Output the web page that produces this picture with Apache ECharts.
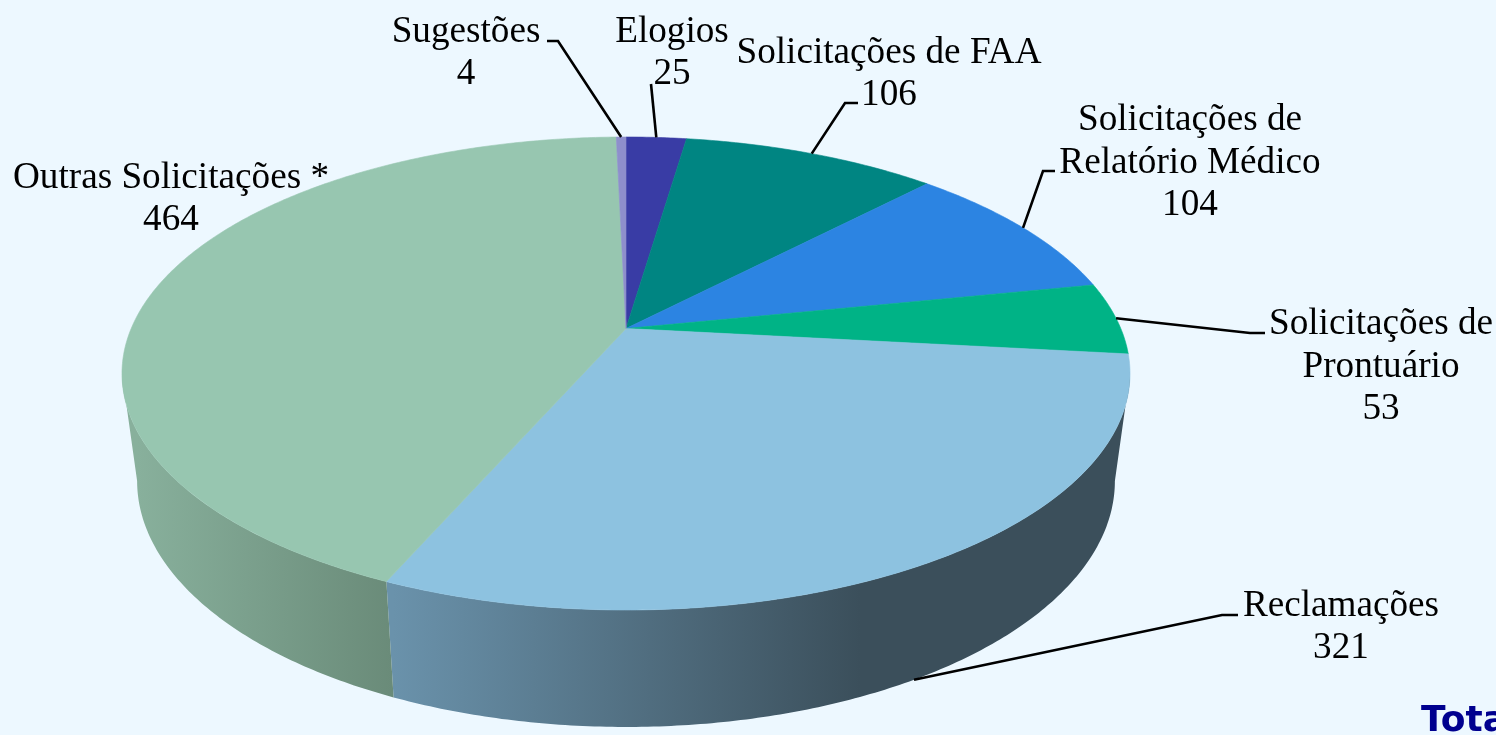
<!DOCTYPE html>
<html><head><meta charset="utf-8">
<style>html,body{margin:0;padding:0;background:#edf8ff;overflow:hidden}#c{width:1496px;height:735px}</style>
<script src="https://cdn.jsdelivr.net/npm/echarts@6/dist/echarts.min.js"></script>
</head><body><div id="c"></div>
<script>
// Data, clockwise from the top of the pie
const categories = ['Elogios','Solicitações de FAA','Solicitações de\nRelatório Médico','Solicitações de\nProntuário','Reclamações','Outras Solicitações *','Sugestões'];
const values = [25,106,104,53,321,464,4];
const topColors = ['#393ca5','#008582','#2c84e2','#00b386','#8dc2e0','#97c6b0','#8e8fcc'];
const sideStops = [null,null,null,null,['#6a92ab','#3b4f5b',393,860],['#88b09c','#6a8b79',137,392],null];
const labelCenters = [[672,53.5],[889,74],[1190,163],[1381,367],[1341,627],[171,199],[466,53.5]];
const leaderElbows = [[[651,84]],[[858,103],[845,103]],[[1055,171],[1043,171]],[[1265,333],[1250,333]],[[1238,615],[1222,615]],null,[[547,41],[558,41]]];

const CX = 626, CY = 373.5, RX = 504, RY = 236.5, APEX_LIFT = 45;
const BOTTOM_SX = 0.97, BOTTOM_SY = 1.04, BOTTOM_CY = 481;
const k = APEX_LIFT / RY, A = RX * Math.sqrt(1 - k * k);
const total = values.reduce((a, b) => a + b, 0);
const TAU = Math.PI * 2;
const starts = []; values.reduce((acc, v, i) => (starts[i] = acc, acc + v), 0);
const angleOf = c => c / total * TAU;

// perspective projection of a rim point of the disc (angle clockwise from far side)
function proj(t) {
  const X = Math.sin(t), Y = Math.cos(t), d = 1 + k * Y;
  return [A * X / d, (RY * Y + APEX_LIFT) / d];
}
const topPt = t => { const p = proj(t); return [CX + p[0], CY - p[1]]; };
const botPt = t => { const p = proj(t); return [CX + p[0] * BOTTOM_SX, BOTTOM_CY - p[1] * BOTTOM_SY]; };
function arc(fn, a, b) {
  const n = Math.max(2, Math.ceil(Math.abs(b - a) / 0.01)), out = [];
  for (let i = 0; i <= n; i++) out.push(fn(a + (b - a) * i / n));
  return out;
}
// the side wall is visible between the two silhouette points of the rim
const visFrom = Math.acos(-k), visTo = TAU - visFrom;

function renderSide(params) {
  const i = params.dataIndex, s = sideStops[i];
  const a = Math.max(angleOf(starts[i]), visFrom), b = Math.min(angleOf(starts[i] + values[i]), visTo);
  if (!s || b <= a) return null;
  const pts = arc(topPt, a, b).concat(arc(botPt, b, a));
  return { type: 'polygon', shape: { points: pts }, style: {
    fill: new echarts.graphic.LinearGradient(s[2], 0, s[3], 0, [{ offset: 0, color: s[0] }, { offset: 1, color: s[1] }], true) } };
}
function renderTop(params) {
  const i = params.dataIndex, a = angleOf(starts[i]), b = angleOf(starts[i] + values[i]);
  const pts = [[CX, CY - APEX_LIFT]].concat(arc(topPt, a, b));
  return { type: 'polygon', shape: { points: pts }, style: { fill: topColors[i], stroke: topColors[i], lineWidth: 0.6 } };
}
function renderLabel(params) {
  const i = params.dataIndex, c = labelCenters[i], children = [];
  if (leaderElbows[i]) {
    const mid = angleOf(starts[i] + values[i] / 2);
    const anchor = (mid > visFrom && mid < visTo) ? botPt(mid) : topPt(mid);
    children.push({ type: 'polyline', shape: { points: leaderElbows[i].concat([anchor]) },
      style: { fill: 'none', stroke: '#000', lineWidth: 2.6 } });
  }
  children.push({ type: 'text', style: { x: c[0], y: c[1], text: categories[i] + '\n' + values[i],
    font: '37.2px "Liberation Serif"', lineHeight: 42.3, fill: '#000', align: 'center', verticalAlign: 'middle' } });
  return { type: 'group', children };
}
const seriesData = values.map((v, i) => ({ name: categories[i], value: [v] }));
const mk = (fn, z) => ({ type: 'custom', coordinateSystem: 'none', renderItem: fn, data: seriesData, z, silent: true, animation: false, clip: false });
const chart = echarts.init(document.getElementById('c'), null, { renderer: 'canvas', width: 1496, height: 735 });
chart.setOption({
  backgroundColor: '#edf8ff',
  animation: false,
  title: { text: 'Tota', left: 1421, top: 701, padding: 0, textStyle: { color: '#00008f', fontFamily: 'DejaVu Sans', fontWeight: 'bold', fontSize: 36, lineHeight: 42 } },
  series: [mk(renderSide, 1), mk(renderTop, 2), mk(renderLabel, 3)]
});
</script></body></html>
